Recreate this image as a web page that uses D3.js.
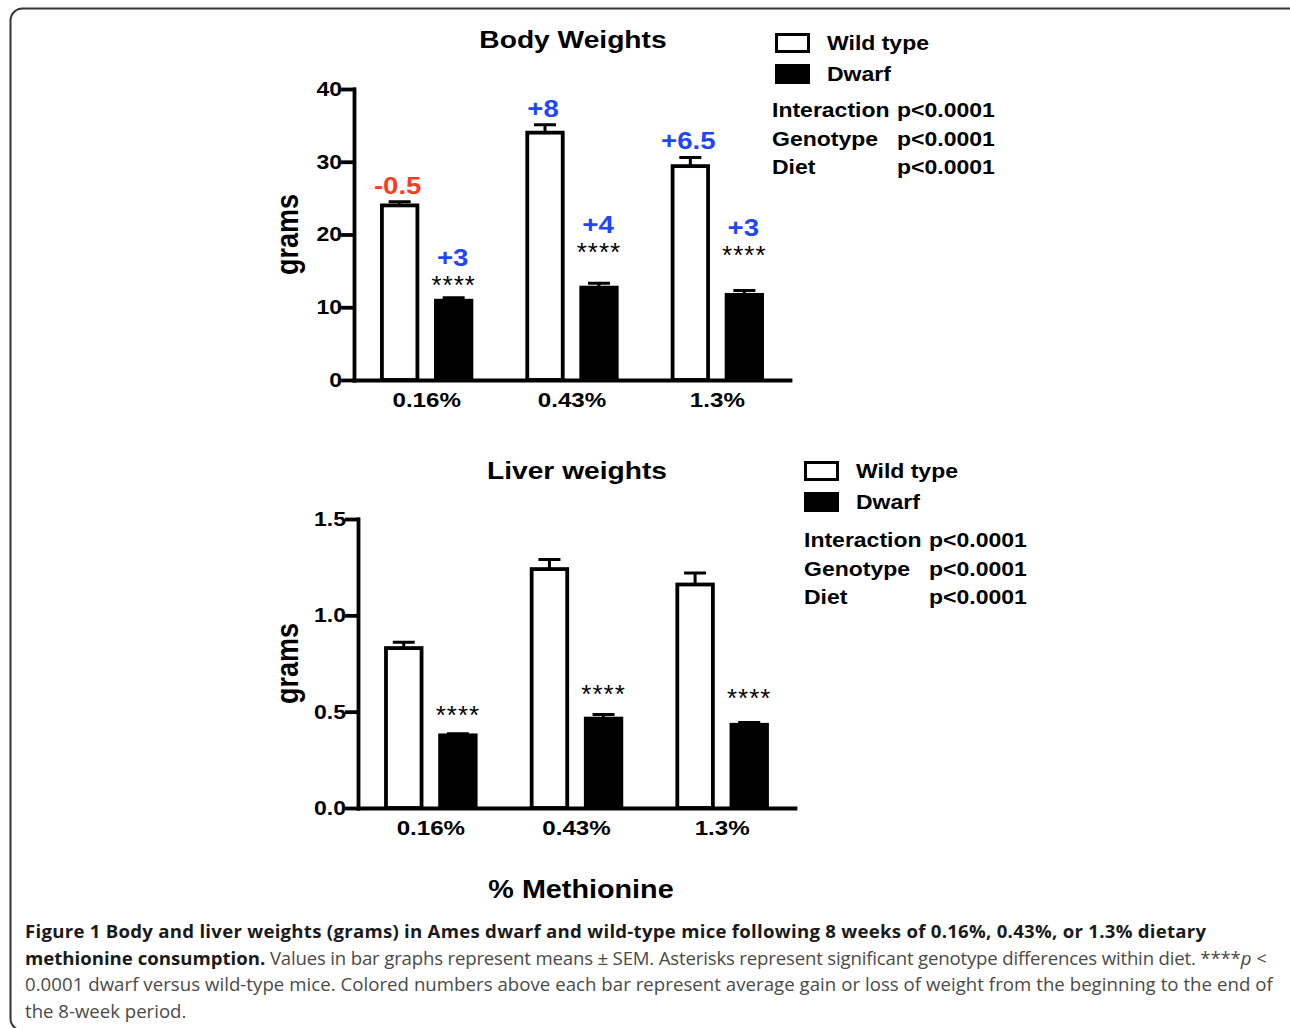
<!DOCTYPE html>
<html>
<head>
<meta charset="utf-8">
<script src="https://cdn.jsdelivr.net/npm/d3@7"></script>
<style>
body { margin: 0; background: #fff; }
svg text { font-family: "Liberation Sans", Arial, Helvetica, sans-serif; }
.caption text { font-family: "Open Sans", sans-serif; }
</style>
</head>
<body>
<svg id="fig" width="1290" height="1028"></svg>
<script>

// Data ----------------------------------------------------------------------

var diets = ["0.16%", "0.43%", "1.3%"];
var genotypes = ["Wild type", "Dwarf"];

var bodyWT = [24.0, 34.0, 29.4],
    bodyWTerr = [0.5, 1.1, 1.2];
var bodyDwarf = [10.9, 12.7, 11.7],
    bodyDwarfErr = [0.4, 0.6, 0.6];
var bodyGainWT = ["-0.5", "+8", "+6.5"],
    bodyGainDwarf = ["+3", "+4", "+3"];
var bodyStars = [11.8, 16.3, 16.0];   // where the **** sit (grams)
var bodyTicks = [0, 10, 20, 30, 40];

var liverWT = [0.83, 1.24, 1.16],
    liverWTerr = [0.03, 0.05, 0.06];
var liverDwarf = [0.377, 0.464, 0.432],
    liverDwarfErr = [0.009, 0.021, 0.012];
var liverStars = [0.434, 0.546, 0.526];
var liverTicks = [0, 0.5, 1.0, 1.5];

var statNames = ["Interaction", "Genotype", "Diet"];
var statP = ["p<0.0001", "p<0.0001", "p<0.0001"];

var gainColor = function(s) { return s[0] == "-" ? "#ff3b1f" : "#1f45ff"; };

var sx = 1.15; // glyphs in the figure are a bit wider than Arial

var svg = d3.select("#fig");

// frame
svg.append("rect")
  .attr("x", 10.5).attr("y", 8.5)
  .attr("width", 1290).attr("height", 1022)
  .attr("rx", 12)
  .attr("fill", "none")
  .attr("stroke", "#333")
  .attr("stroke-width", 2);

function label(g, x, y, str, size, anchor, color, weight) {
  return g.append("text")
    .attr("transform", "translate(" + x + "," + y + ") scale(" + sx + ",1)")
    .attr("text-anchor", anchor || "start")
    .attr("font-size", size)
    .attr("font-weight", weight || "bold")
    .attr("fill", color || "#000")
    .text(str);
}


// Panel ---------------------------------------------------------------------

function drawPanel(p) {

  var g = svg.append("g");

  var x = d3.scaleBand().domain(diets).range(p.xr);
  var x1 = d3.scaleBand().domain(genotypes)
    .range([0, x.bandwidth()])
    .paddingInner(0.343).paddingOuter(0.517);
  var y = d3.scaleLinear().domain(p.dom).range(p.yr);

  var rows = diets.map(function(d, i) {
    return [
      {diet: d, geno: genotypes[0], v: p.wt[i], e: p.wtErr[i]},
      {diet: d, geno: genotypes[1], v: p.dw[i], e: p.dwErr[i]}
    ];
  });
  var flat = d3.merge(rows);

  // bars
  g.selectAll(".bar")
    .data(flat)
    .enter().append("rect")
    .attr("class", "bar")
    .attr("x", function(d) { return x(d.diet) + x1(d.geno); })
    .attr("width", x1.bandwidth())
    .attr("y", function(d) { return y(d.v); })
    .attr("height", function(d) { return y(0) - y(d.v); })
    .attr("fill", function(d) { return d.geno == "Dwarf" ? "#000" : "#fff"; })
    .attr("stroke", "#000")
    .attr("stroke-width", 3.8);

  // error bars (upper only)
  var cx = function(d) { return x(d.diet) + x1(d.geno) + x1.bandwidth() / 2; };
  g.selectAll(".err")
    .data(flat)
    .enter().append("path")
    .attr("class", "err")
    .attr("d", function(d) {
      var c = cx(d), t = y(d.v + d.e);
      return "M" + c + "," + y(d.v) + "V" + t + "M" + (c - 11) + "," + t + "H" + (c + 11);
    })
    .attr("fill", "none")
    .attr("stroke", "#000")
    .attr("stroke-width", 3);

  // axes
  var yAxis = d3.axisLeft(y)
    .tickValues(p.ticks)
    .tickSize(11)
    .tickSizeOuter(0)
    .tickFormat(p.fmt);

  var ya = g.append("g")
    .attr("transform", "translate(" + p.xr[0] + ",0)")
    .call(yAxis);
  ya.selectAll("line, path").attr("stroke-width", 3.8).attr("stroke-linecap", "square");
  ya.selectAll("text")
    .attr("x", -12 / sx)
    .attr("transform", "scale(" + sx + ",1)")
    .attr("font-size", 20)
    .attr("font-weight", "bold")
    .attr("font-family", null);

  var xa = g.append("g")
    .attr("transform", "translate(0," + y(0) + ")")
    .call(d3.axisBottom(x).tickSize(0).tickSizeOuter(0).tickPadding(12));
  xa.select(".domain").attr("stroke-width", 3.8).attr("stroke-linecap", "square");
  xa.selectAll("text")
    .attr("transform", "scale(" + sx + ",1)")
    .attr("font-size", 21)
    .attr("font-weight", "bold")
    .attr("font-family", null);

  // **** and gain labels above the dwarf bars
  diets.forEach(function(d, i) {
    var cw = x(d) + x1(genotypes[0]) + x1.bandwidth() / 2,
        cd = x(d) + x1(genotypes[1]) + x1.bandwidth() / 2,
        sy = y(p.stars[i]);
    g.append("text")
      .attr("x", cd).attr("y", sy)
      .attr("text-anchor", "middle")
      .attr("font-size", 26)
      .attr("letter-spacing", 1)
      .text("****");
    if (p.gainWT) {
      label(g, cw - 2, y(p.wt[i] + p.wtErr[i]) - 8, p.gainWT[i], 24, "middle", gainColor(p.gainWT[i]));
      label(g, cd - 1, sy - 28, p.gainDw[i], 24, "middle", gainColor(p.gainDw[i]));
    }
  });

  // y title
  g.append("text")
    .attr("transform", "translate(" + p.ylab[0] + "," + p.ylab[1] + ") rotate(-90) scale(1," + sx + ")")
    .attr("text-anchor", "middle")
    .attr("font-size", 27)
    .attr("font-weight", "bold")
    .text("grams");

  // title
  label(g, p.title[1], p.title[2], p.title[0], 24.5, "middle");

  // legend
  var lg = g.append("g").attr("transform", "translate(" + p.leg[0] + "," + p.leg[1] + ")");
  lg.append("rect")
    .attr("x", 1.5).attr("y", 1.5).attr("width", 32).attr("height", 17)
    .attr("fill", "#fff").attr("stroke", "#000").attr("stroke-width", 3);
  lg.append("rect")
    .attr("x", 0).attr("y", 31).attr("width", 35).attr("height", 20)
    .attr("fill", "#000");
  label(lg, 52, 17, genotypes[0], 20);
  label(lg, 52, 48, genotypes[1], 20);

  statNames.forEach(function(s, i) {
    label(lg, p.stat[0], p.stat[1] + i * 28.5, s, 20);
    label(lg, p.stat[2], p.stat[1] + i * 28.5, statP[i], 20);
  });
}

drawPanel({
  xr: [354, 790], yr: [380, 89], dom: [0, 40],
  wt: bodyWT, wtErr: bodyWTerr, dw: bodyDwarf, dwErr: bodyDwarfErr,
  stars: bodyStars, gainWT: bodyGainWT, gainDw: bodyGainDwarf,
  ticks: bodyTicks, fmt: d3.format("d"),
  ylab: [298, 234.5], title: ["Body Weights", 573, 48],
  leg: [775, 33], stat: [-3, 84, 122]
});

drawPanel({
  xr: [358, 795], yr: [808, 519], dom: [0, 1.5],
  wt: liverWT, wtErr: liverWTerr, dw: liverDwarf, dwErr: liverDwarfErr,
  stars: liverStars,
  ticks: liverTicks, fmt: d3.format(".1f"),
  ylab: [298, 663.5], title: ["Liver weights", 577, 479],
  leg: [804, 461], stat: [0, 86, 125]
});

label(svg, 581, 898, "% Methionine", 25, "middle");


// Caption -------------------------------------------------------------------

var cap = svg.append("g").attr("class", "caption").attr("font-size", 18.6);

cap.append("text").attr("x", 25).attr("y", 938)
  .attr("font-weight", "bold").attr("fill", "#1a1a1a")
  .attr("letter-spacing", 0.27)
  .text("Figure 1 Body and liver weights (grams) in Ames dwarf and wild-type mice following 8 weeks of 0.16%, 0.43%, or 1.3% dietary");

var l2 = cap.append("text").attr("x", 25).attr("y", 964.5).attr("fill", "#4a4a4a");
l2.append("tspan").attr("font-weight", "bold").attr("fill", "#1a1a1a").text("methionine consumption.");
l2.append("tspan").attr("letter-spacing", -0.17)
  .text(" Values in bar graphs represent means \u00b1 SEM. Asterisks represent significant genotype differences within diet. ****");
l2.append("tspan").attr("font-style", "italic").text("p");
l2.append("tspan").text(" <");

cap.append("text").attr("x", 25).attr("y", 991).attr("fill", "#4a4a4a")
  .attr("letter-spacing", 0.05)
  .text("0.0001 dwarf versus wild-type mice. Colored numbers above each bar represent average gain or loss of weight from the beginning to the end of");

cap.append("text").attr("x", 25).attr("y", 1017.5).attr("fill", "#4a4a4a")
  .text("the 8-week period.");

</script>
</body>
</html>
